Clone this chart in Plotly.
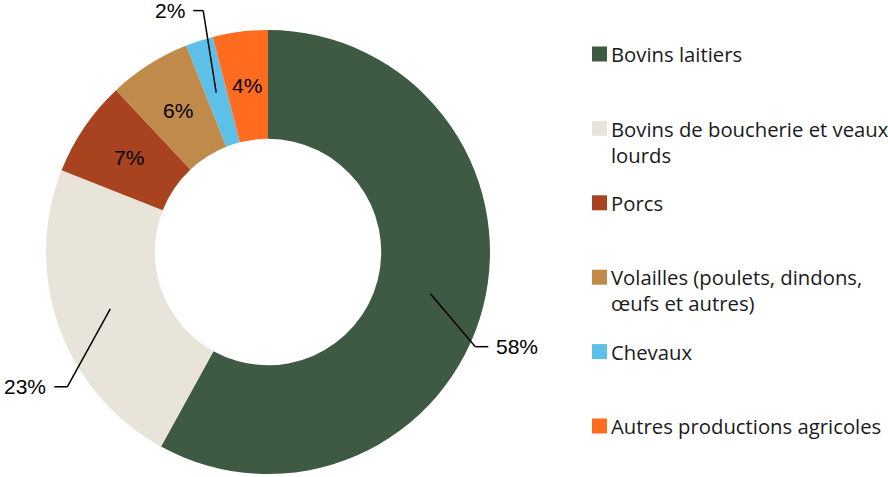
import math
import plotly.graph_objects as go

# Répartition par production (%)
categories = [
    "Bovins laitiers",
    "Bovins de boucherie et veaux lourds",
    "Porcs",
    "Volailles (poulets, dindons, œufs et autres)",
    "Chevaux",
    "Autres productions agricoles",
]
values = [58, 23, 7, 6, 2, 4]
legend_lines = [
    ["Bovins laitiers"],
    ["Bovins de boucherie et veaux", "lourds"],
    ["Porcs"],
    ["Volailles (poulets, dindons,", "œufs et autres)"],
    ["Chevaux"],
    ["Autres productions agricoles"],
]
colors = ["#3E5A43", "#E8E4DA", "#A8421F", "#C08A4B", "#5DC0E8", "#FF6B1F"]

W, H = 888, 477
CX, CY, R_OUT = 268, 252, 222
HOLE = 0.51
R_MID = R_OUT * (1 + HOLE) / 2

# labels placed outside with an elbow leader line: (elbow dx, elbow dy, tail length)
outside = {0: (45, 53, 13), 1: (-43, 78, -13), 4: (-13, -82, -10)}

# legend block geometry (pixels)
LEG_SWATCH_X, LEG_SWATCH = 592, 15
LEG_TEXT_X = 609
LEG_ROW0, LEG_ROW_STEP = 54, 74.4
LEG_FONT_SIZE = 20.3
LEG_LINE_H = 1.3 * LEG_FONT_SIZE


def px2paper(x, y):
    return x / W, 1 - y / H


fig = go.Figure(
    go.Pie(
        labels=categories,
        values=values,
        marker=dict(colors=colors, line=dict(width=0)),
        hole=HOLE,
        sort=False,
        direction="clockwise",
        rotation=0,
        textinfo="none",
        hoverinfo="label+percent",
        showlegend=False,
        domain=dict(x=[(CX - R_OUT) / W, (CX + R_OUT) / W],
                    y=[1 - (CY + R_OUT) / H, 1 - (CY - R_OUT) / H]),
    )
)

annotations = []
shapes = []
total = sum(values)
acc = 0
label_font = dict(family="Liberation Sans, Arial, sans-serif", size=21, color="#000000")
for i, v in enumerate(values):
    mid = (acc + v / 2) / total * 2 * math.pi
    acc += v
    sx = CX + R_MID * math.sin(mid)
    sy = CY - R_MID * math.cos(mid)
    text = f"{v}%"
    if i in outside:
        dx, dy, tail = outside[i]
        ex, ey = sx + dx, sy + dy
        tx = ex + tail
        pts = [(sx, sy), (ex, ey), (tx, ey)]
        for (x0, y0), (x1, y1) in zip(pts[:-1], pts[1:]):
            a0, b0 = px2paper(x0, y0)
            a1, b1 = px2paper(x1, y1)
            shapes.append(dict(type="line", xref="paper", yref="paper",
                               x0=a0, y0=b0, x1=a1, y1=b1,
                               line=dict(color="#000000", width=1.5)))
        ax, ay = px2paper(tx + (6 if tail > 0 else -6), ey)
        annotations.append(dict(x=ax, y=ay, xref="paper", yref="paper", text=text,
                                showarrow=False, font=label_font,
                                xanchor="left" if tail > 0 else "right", yanchor="middle"))
    else:
        ax, ay = px2paper(sx, sy)
        annotations.append(dict(x=ax, y=ay, xref="paper", yref="paper", text=text,
                                showarrow=False, font=label_font,
                                xanchor="center", yanchor="middle"))

# legend: colour swatch + wrapped category name, evenly spaced rows
legend_font = dict(family="Open Sans, sans-serif", size=LEG_FONT_SIZE, color="#1A1A1A")
for i, (lines, col) in enumerate(zip(legend_lines, colors)):
    cy = LEG_ROW0 + i * LEG_ROW_STEP
    x0, y0 = px2paper(LEG_SWATCH_X, cy - LEG_SWATCH / 2)
    x1, y1 = px2paper(LEG_SWATCH_X + LEG_SWATCH, cy + LEG_SWATCH / 2)
    shapes.append(dict(type="rect", xref="paper", yref="paper",
                       x0=x0, y0=y0, x1=x1, y1=y1,
                       fillcolor=col, line=dict(width=0)))
    # block centred so that its first line sits level with the swatch
    block_mid = cy + (len(lines) - 1) * LEG_LINE_H / 2
    tx, ty = px2paper(LEG_TEXT_X, block_mid)
    annotations.append(dict(x=tx, y=ty, xref="paper", yref="paper",
                            text="<br>".join(lines), align="left",
                            showarrow=False, font=legend_font,
                            xanchor="left", yanchor="middle"))

fig.update_layout(
    width=W,
    height=H,
    margin=dict(l=0, r=0, t=0, b=0),
    paper_bgcolor="#FFFFFF",
    plot_bgcolor="#FFFFFF",
    annotations=annotations,
    shapes=shapes,
)

fig.write_html("out.html")
